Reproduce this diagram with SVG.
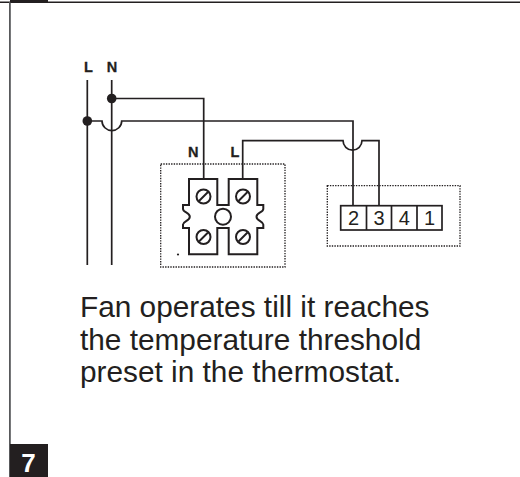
<svg xmlns="http://www.w3.org/2000/svg" width="520" height="477" viewBox="0 0 520 477">
<style>
.w{fill:none;stroke:#231f20;stroke-width:1.7}
.t{fill:none;stroke:#231f20;stroke-width:2}
.d{fill:none;stroke:#231f20;stroke-width:1.3;stroke-dasharray:1.4 1.2}
.lab{font-family:"Liberation Sans",Arial,sans-serif;font-weight:bold;font-size:14.500px;fill:#231f20;stroke:#231f20;stroke-width:.3}
.num{font-family:"Liberation Sans",Arial,sans-serif;font-size:20px;fill:#231f20;text-anchor:middle}
.cap{font-family:"Liberation Sans",Arial,sans-serif;font-size:29.800px;fill:#231f20}
</style>
<defs>
<g id="screw"><circle r="7" class="t"/><line x1="-4.5" y1="4.5" x2="4.5" y2="-4.5" class="t"/></g>
</defs>
<g id="frame">
<rect x="0" y="1.500" width="520" height="1.500" fill="#231f20"/>
<rect x="9" y="2" width="1.800" height="475" fill="#58595b"/>
<rect x="10" y="0" width="38" height="2.500" fill="#231f20"/>
</g>
<g id="connectors">
<path class="w" d="M87.300 80V265M111.700 80V265"/>
<path class="w" d="M111.700 98.500H203.700V179"/>
<path class="w" d="M87.300 121H102A9.800 9.500 0 0 0 121.700 121H353V205.500"/>
<path class="w" d="M242.700 179V140.600H343A9.500 9.500 0 0 0 362 140.600H379V205.500"/>
<circle cx="111.700" cy="98.500" r="4.800" fill="#231f20"/>
<circle cx="87.300" cy="121" r="4.800" fill="#231f20"/>
</g>
<g id="label-L-main"><text class="lab" x="84" y="71.500">L</text></g>
<g id="label-N-main"><text class="lab" x="106.700" y="71.500">N</text></g>
<g id="label-N-term"><text class="lab" x="188" y="156.500">N</text></g>
<g id="label-L-term"><text class="lab" x="230.500" y="156.500">L</text></g>
<g id="terminal">
<rect class="d" x="160.700" y="164" width="124.300" height="103"/>
<path class="t" d="M217.300 228H228.700V254.300H257.300V228H263.300V224.500C263.300 221 256.500 221 256.500 216.700C256.500 212.500 263.300 212.500 263.300 209V205H257.300V179H228.700V205H217.300V179H189V205H183V209C183 212.500 189.800 212.500 189.800 216.700C189.800 221 183 221 183 224.500V228H189V254.300H217.300Z"/>
<circle cx="223" cy="216.700" r="8" class="t" style="fill:#fff"/>
<use href="#screw" x="203.500" y="196.500"/>
<use href="#screw" x="243" y="196.500"/>
<use href="#screw" x="203.500" y="237"/>
<use href="#screw" x="243" y="237"/>
<circle cx="178" cy="254.500" r="1.100" fill="#231f20"/>
</g>
<g id="thermostat">
<rect class="d" x="327.300" y="185.700" width="132.700" height="60.300"/>
<rect class="w" x="340.700" y="205.700" width="101.300" height="24.300"/>
<path class="w" d="M366.500 205.700V230M391.500 205.700V230M417 205.700V230"/>
<text class="num" x="353.500" y="225">2</text>
<text class="num" x="379" y="225">3</text>
<text class="num" x="404.300" y="225">4</text>
<text class="num" x="429.500" y="225">1</text>
</g>
<g id="caption">
<text class="cap" x="80" y="316.700">Fan operates till it reaches</text>
<text class="cap" x="80" y="349.500">the temperature threshold</text>
<text class="cap" x="80" y="382">preset in the thermostat.</text>
</g>
<g id="badge">
<rect x="10" y="444" width="38" height="33" fill="#231f20"/>
<text x="28.500" y="472" text-anchor="middle" style="font-family:'Liberation Sans',Arial,sans-serif;font-weight:bold;font-size:26px;fill:#fff">7</text>
</g>
</svg>
